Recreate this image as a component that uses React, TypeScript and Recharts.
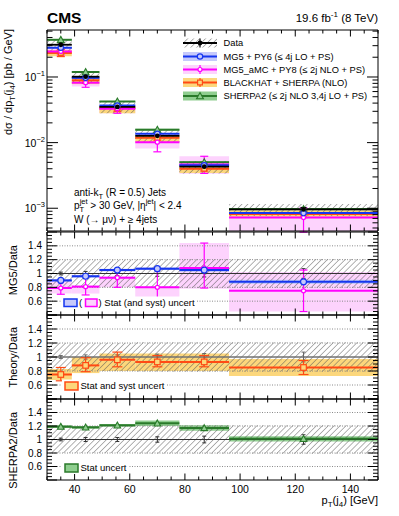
import React from 'react';
import { ComposedChart, XAxis, YAxis, Scatter, ErrorBar, ReferenceArea, ReferenceLine } from 'recharts';

const FONT = '"Liberation Sans", Arial, Helvetica, sans-serif';

// pT(j4) binning [GeV]
const binLow = [30, 39, 49, 62, 78, 96];
const binHigh = [39, 49, 62, 78, 96, 150];
const binCenter = [35, 44, 55.5, 70, 87, 123];

// measured cross section [pb/GeV] and relative uncertainties
const dataXsec = [0.31, 0.101, 0.035, 0.0127, 0.0043, 0.00096];
const dataRatio = [1, 1, 1, 1, 1, 1];
const dataStatLow = [0.98, 0.97, 0.97, 0.96, 0.95, 0.93];
const dataStatHigh = [1.02, 1.03, 1.03, 1.04, 1.05, 1.07];
const dataBandLow = [0.8, 0.8, 0.8, 0.79, 0.79, 0.79];
const dataBandHigh = [1.2, 1.2, 1.2, 1.21, 1.21, 1.21];

// theory / data
const mg5Ratio = [0.9, 0.96, 1.05, 1.07, 1.05, 0.88];
const mg5Low = [0.88, 0.94, 1.03, 1.05, 1.02, 0.85];
const mg5High = [0.92, 0.98, 1.07, 1.09, 1.08, 0.91];

const amcRatio = [0.79, 0.81, 0.94, 0.8, 1.08, 0.75];
const amcLow = [0.71, 0.71, 0.8, 0.64, 0.78, 0.45];
const amcHigh = [0.9, 0.83, 0.96, 0.81, 1.44, 1.02];
const amcErrLow = [0.7, 0.69, 0.8, 0.57, 0.79, 0.45];
const amcErrHigh = [0.9, 0.97, 1.05, 1.07, 1.44, 1.05];

const bhRatio = [0.75, 0.88, 0.96, 0.93, 0.93, 0.85];
const bhLow = [0.67, 0.77, 0.8, 0.8, 0.8, 0.73];
const bhHigh = [0.83, 1.0, 1.05, 1.05, 1.05, 0.97];
const bhErrLow = [0.66, 0.79, 0.86, 0.86, 0.86, 0.75];
const bhErrHigh = [0.85, 0.99, 1.07, 1.02, 1.02, 0.95];

const shRatio = [1.19, 1.18, 1.21, 1.24, 1.17, 1.01];
const shLow = [1.17, 1.16, 1.19, 1.2, 1.13, 0.97];
const shHigh = [1.21, 1.2, 1.23, 1.28, 1.21, 1.05];

const legendLabels = [
  'Data',
  'MG5 + PY6 (≤ 4j LO + PS)',
  'MG5_aMC + PY8 (≤ 2j NLO + PS)',
  'BLACKHAT + SHERPA (NLO)',
  'SHERPA2 (≤ 2j NLO 3,4j LO + PS)',
];

const xTicks = [30, 35, 40, 45, 50, 55, 60, 65, 70, 75, 80, 85, 90, 95, 100, 105, 110, 115, 120, 125, 130, 135, 140, 145, 150];
const xLabels = [40, 60, 80, 100, 120, 140];
const ratioLabels = [0.6, 0.8, 1, 1.2, 1.4];
const gridLines = [0.6, 0.8, 1.2, 1.4];

const logDomain: [number, number] = [4.5e-4, 0.52];
const ratioDomain: [number, number] = [0.4, 1.6];
const ratioTicks = Array.from({ length: 25 }, (_, i) => +(0.4 + i * 0.05).toFixed(2));
const logTicks: number[] = [];
for (let e = -4; e <= -1; e++) {
  for (let m = 1; m <= 9; m++) {
    const v = +(m * Math.pow(10, e)).toPrecision(3);
    if (v >= logDomain[0] && v <= logDomain[1]) logTicks.push(v);
  }
}

const C = {
  mg5: '#1535f0', mg5Band: '#c6c9fb',
  amc: '#ff00ff', amcBand: '#fdd3fd',
  bh: '#ff4a14', bhBand: '#fcd77c',
  sh: '#2a7a2a', shBand: '#8fce8f',
};

const xTick = (dir: number, showLabel: boolean) => (p: any) => {
  const v = p.payload.value;
  const major = v % 20 === 0;
  const len = major ? 6.5 : 3.5;
  return (
    <g>
      <line x1={p.x} x2={p.x} y1={p.y} y2={p.y + dir * len} stroke="#000" strokeWidth={1} />
      {showLabel && xLabels.includes(v) ? (
        <text x={p.x} y={p.y + 12.5} textAnchor="middle" fontSize={10.5} fontFamily={FONT} fill="#000">{v}</text>
      ) : null}
    </g>
  );
};

const logTick = (dir: number, showLabel: boolean) => (p: any) => {
  const v = p.payload.value;
  const lg = Math.log10(v);
  const major = Math.abs(lg - Math.round(lg)) < 1e-6;
  const len = major ? 11 : 5.5;
  return (
    <g>
      <line x1={p.x} x2={p.x + dir * len} y1={p.y} y2={p.y} stroke="#000" strokeWidth={1} />
      {showLabel && major ? (
        <text x={p.x - 2} y={p.y + 4} textAnchor="end" fontSize={10.5} fontFamily={FONT} fill="#000">
          10<tspan dy={-5} fontSize={7.5}>{'−' + Math.abs(Math.round(lg))}</tspan>
        </text>
      ) : null}
    </g>
  );
};

const ratioTick = (dir: number, showLabel: boolean) => (p: any) => {
  const v = p.payload.value;
  const k = Math.round(v * 100);
  const major = k % 20 === 0;
  const len = major ? 10 : 5;
  return (
    <g>
      <line x1={p.x} x2={p.x + dir * len} y1={p.y} y2={p.y} stroke="#000" strokeWidth={1} />
      {showLabel && ratioLabels.includes(v) ? (
        <text x={p.x - 5} y={p.y + 3.6} textAnchor="end" fontSize={10} fontFamily={FONT} fill="#000">
          {k === 100 ? '1' : v.toFixed(1)}
        </text>
      ) : null}
    </g>
  );
};

// axes are 1px thick so that they render; margins account for it
function panelAxes(kind: 'log' | 'ratio', showX: boolean) {
  const yProps: any = kind === 'log'
    ? { scale: 'log', domain: logDomain, ticks: logTicks }
    : { scale: 'linear', domain: ratioDomain, ticks: ratioTicks };
  const yt = kind === 'log' ? logTick : ratioTick;
  const common: any = { type: 'number', allowDataOverflow: true, interval: 0, tickLine: false, tickSize: 0, tickMargin: 0, axisLine: { stroke: '#000', strokeWidth: 1 } };
  return [
    <XAxis key="xb" xAxisId={0} dataKey="x" domain={[30, 150]} ticks={xTicks} tick={xTick(-1, showX)} height={1} {...common} />,
    <XAxis key="xt" xAxisId="top" orientation="top" dataKey="x" domain={[30, 150]} ticks={xTicks} tick={xTick(1, false)} height={1} {...common} />,
    <YAxis key="yl" yAxisId={0} dataKey="y" {...yProps} tick={yt(1, true)} width={1} {...common} />,
    <YAxis key="yr" yAxisId="r" orientation="right" dataKey="y" {...yProps} tick={yt(-1, false)} width={1} {...common} />,
  ];
}

function bandAreas(key: string, lo: number[], hi: number[], fill: string, scale?: number[]) {
  return binLow.map((x1, i) => {
    const s = scale ? scale[i] : 1;
    return (
      <ReferenceArea key={key + i} x1={x1} x2={binHigh[i]} y1={lo[i] * s} y2={hi[i] * s}
        fill={fill} fillOpacity={1} stroke="none" ifOverflow="hidden" />
    );
  });
}

type Pt = { x: number; y: number; ex: number[]; ey: number[] };
function makePoints(center: number[], lo: number[], hi: number[], scale?: number[]): Pt[] {
  return binCenter.map((x, i) => {
    const s = scale ? scale[i] : 1;
    const y = center[i] * s;
    return { x, y, ex: [x - binLow[i], binHigh[i] - x], ey: [y - lo[i] * s, hi[i] * s - y] };
  });
}

const dot = (color: string, r: number) => (p: any) => <circle cx={p.cx} cy={p.cy} r={r} fill={color} />;
const ring = (color: string, fill: string, r: number) => (p: any) =>
  <circle cx={p.cx} cy={p.cy} r={r} fill={fill} stroke={color} strokeWidth={1.2} />;
const square = (color: string, fill: string, s: number) => (p: any) =>
  <rect x={p.cx - s} y={p.cy - s} width={2 * s} height={2 * s} fill={fill} stroke={color} strokeWidth={1.2} />;
const triangle = (color: string, fill: string, s: number) => (p: any) =>
  <polygon points={`${p.cx},${p.cy - s} ${p.cx + s},${p.cy + s * 0.8} ${p.cx - s},${p.cy + s * 0.8}`} fill={fill} stroke={color} strokeWidth={1.1} />;

function series(key: string, pts: Pt[], color: string, shape: any, lineW: number, cap: number, errW = 1.2) {
  return (
    <Scatter key={key} data={pts} dataKey="y" isAnimationActive={false} shape={shape} legendType="none">
      <ErrorBar dataKey="ex" direction="x" width={0} stroke={color} strokeWidth={lineW} isAnimationActive={false} />
      <ErrorBar dataKey="ey" direction="y" width={cap} stroke={color} strokeWidth={errW} isAnimationActive={false} />
    </Scatter>
  );
}

function ratioGrid() {
  return [
    ...gridLines.map((v) => (
      <ReferenceLine key={'g' + v} y={v} stroke="#8a8a8a" strokeDasharray="1 1.5" ifOverflow="hidden" />
    )),
    <ReferenceLine key="g1" y={1} stroke="#888" strokeWidth={1} ifOverflow="hidden" />,
  ];
}

const dataRatioPts = makePoints(dataRatio, dataStatLow, dataStatHigh);
const M = { left: 46, right: 20 };

const TopPanel = () => (
  <ComposedChart width={399} height={240} margin={{ top: 29, right: M.right, bottom: 8, left: M.left }}>
    {panelAxes('log', false)}
    {bandAreas('ab', amcLow, amcHigh, C.amcBand, dataXsec)}
    {bandAreas('bb', bhLow, bhHigh, C.bhBand, dataXsec)}
    {bandAreas('mb', mg5Low, mg5High, C.mg5Band, dataXsec)}
    {bandAreas('sb', shLow, shHigh, C.shBand, dataXsec)}
    {bandAreas('hb', dataBandLow, dataBandHigh, 'url(#hatch)', dataXsec)}
    {series('sh', makePoints(shRatio, shLow, shHigh, dataXsec), C.sh, triangle(C.sh, C.shBand, 3.4), 2, 0)}
    {series('bh', makePoints(bhRatio, bhErrLow, bhErrHigh, dataXsec), C.bh, square(C.bh, C.bhBand, 2.4), 2, 4)}
    {series('am', makePoints(amcRatio, amcErrLow, amcErrHigh, dataXsec), C.amc, ring(C.amc, '#fff', 2), 2, 4)}
    {series('mg', makePoints(mg5Ratio, mg5Low, mg5High, dataXsec), C.mg5, ring(C.mg5, C.mg5Band, 2.7), 2, 0)}
    {series('da', makePoints(dataRatio, dataStatLow, dataStatHigh, dataXsec), '#000', dot('#000', 2.4), 1.8, 3)}
  </ComposedChart>
);

const Mg5Panel = () => (
  <ComposedChart width={399} height={87} margin={{ top: 1, right: M.right, bottom: 1, left: M.left }}>
    {panelAxes('ratio', false)}
    {ratioGrid()}
    {bandAreas('ab', amcLow, amcHigh, C.amcBand)}
    {bandAreas('mb', mg5Low, mg5High, C.mg5Band)}
    {bandAreas('hb', dataBandLow, dataBandHigh, 'url(#hatch)')}
    {series('da', dataRatioPts, '#333', dot('#333', 0.8), 1, 2, 1)}
    {series('am', makePoints(amcRatio, amcErrLow, amcErrHigh), C.amc, ring(C.amc, '#fff', 2), 2, 4)}
    {series('mg', makePoints(mg5Ratio, mg5Low, mg5High), C.mg5, ring(C.mg5, C.mg5Band, 3), 2, 0)}
  </ComposedChart>
);

const TheoryPanel = () => (
  <ComposedChart width={399} height={88} margin={{ top: 1, right: M.right, bottom: 1, left: M.left }}>
    {panelAxes('ratio', false)}
    {ratioGrid()}
    {bandAreas('bb', bhLow, bhHigh, C.bhBand)}
    {bandAreas('hb', dataBandLow, dataBandHigh, 'url(#hatch)')}
    {series('da', dataRatioPts, '#666', dot('#666', 0.8), 1, 2, 1)}
    {series('bh', makePoints(bhRatio, bhErrLow, bhErrHigh), C.bh, square(C.bh, C.bhBand, 2.8), 2, 5)}
  </ComposedChart>
);

const SherpaPanel = () => (
  <ComposedChart width={399} height={120} margin={{ top: 1, right: M.right, bottom: 36, left: M.left }}>
    {panelAxes('ratio', true)}
    {ratioGrid()}
    {bandAreas('sb', shLow, shHigh, C.shBand)}
    {bandAreas('hb', dataBandLow, dataBandHigh, 'url(#hatch)')}
    {series('da', dataRatioPts, '#333', dot('#333', 0.8), 1, 2, 1)}
    {series('sh', makePoints(shRatio, shLow, shHigh), C.sh, triangle(C.sh, C.shBand, 3.3), 2, 0)}
  </ComposedChart>
);

const legendY = [43, 56.5, 69.5, 82.5, 96];
const legendFill = ['url(#hatch)', C.mg5Band, C.amcBand, C.bhBand, C.shBand];
const legendColor = ['#000', C.mg5, C.amc, C.bh, C.sh];

const LegendSymbol = ({ i, y }: { i: number; y: number }) => {
  const x0 = 183, x1 = 217, cx = 200;
  const c = legendColor[i];
  let marker: React.ReactNode = null;
  if (i === 0) marker = <circle cx={cx} cy={y} r={2.4} fill="#000" />;
  if (i === 1) marker = <circle cx={cx} cy={y} r={2.7} fill={C.mg5Band} stroke={c} strokeWidth={1.2} />;
  if (i === 2) marker = <circle cx={cx} cy={y} r={2} fill="#fff" stroke={c} strokeWidth={1.2} />;
  if (i === 3) marker = <rect x={cx - 2.4} y={y - 2.4} width={4.8} height={4.8} fill={C.bhBand} stroke={c} strokeWidth={1.2} />;
  if (i === 4) marker = <polygon points={`${cx},${y - 3.4} ${cx + 3.4},${y + 2.7} ${cx - 3.4},${y + 2.7}`} fill={C.shBand} stroke={c} strokeWidth={1.1} />;
  return (
    <g>
      <rect x={x0} y={y - 4.5} width={x1 - x0} height={9} fill={legendFill[i]} />
      <line x1={x0} x2={x1} y1={y} y2={y} stroke={c} strokeWidth={2} />
      {i !== 1 && i !== 4 ? <line x1={cx} x2={cx} y1={y - 4.5} y2={y + 4.5} stroke={c} strokeWidth={1.2} /> : null}
      {marker}
    </g>
  );
};

const Overlay = () => (
  <svg width={399} height={516} style={{ position: 'absolute', left: 0, top: 0, pointerEvents: 'none' }}
    fontFamily={FONT} fill="#000">
    <text x={47} y={22.5} fontSize={15.5} fontWeight="bold">CMS</text>
    <text x={378} y={21.5} textAnchor="end" fontSize={11.5}>
      19.6 fb<tspan dy={-4.5} fontSize={8}>-1</tspan><tspan dy={4.5}> (8 TeV)</tspan>
    </text>

    <text transform="rotate(-90)" x={-29} y={12} textAnchor="end" fontSize={11}>
      dσ / dp<tspan dy={3} fontSize={8}>T</tspan><tspan dy={-3}>(j</tspan><tspan dy={3} fontSize={8}>4</tspan><tspan dy={-3}>)  [pb / GeV]</tspan>
    </text>
    <text transform="rotate(-90)" x={-245} y={17} textAnchor="end" fontSize={11}>MG5/Data</text>
    <text transform="rotate(-90)" x={-327} y={17} textAnchor="end" fontSize={11}>Theory/Data</text>
    <text transform="rotate(-90)" x={-412} y={17} textAnchor="end" fontSize={11}>SHERPA2/Data</text>

    {legendLabels.map((t, i) => (
      <g key={t}>
        <LegendSymbol i={i} y={legendY[i]} />
        <text x={223.5} y={legendY[i] + 3.3} fontSize={9.3}>{t}</text>
      </g>
    ))}

    <text x={74} y={195.5} fontSize={10}>
      anti-k<tspan dy={3} fontSize={7.5}>T</tspan><tspan dy={-3}> (R = 0.5) Jets</tspan>
    </text>
    <text x={74} y={209} fontSize={10}>
      p<tspan dy={3} fontSize={7.5}>T</tspan><tspan dx={-4.5} dy={-8} fontSize={7.5}>jet</tspan>
      <tspan dy={5}> &gt; 30 GeV, |η</tspan><tspan dy={-5} fontSize={7.5}>jet</tspan><tspan dy={5}>| &lt; 2.4</tspan>
    </text>
    <text x={74} y={222.5} fontSize={10}>W (→ μν) + ≥ 4jets</text>

    <rect x={61} y={296.5} width={135} height={12.5} fill="#fff" />
    <rect x={64} y={299} width={13} height={7.5} fill={C.mg5Band} stroke={C.mg5} strokeWidth={1.5} />
    <text x={79} y={306} fontSize={9.5}>(</text>
    <rect x={85.5} y={299} width={11.5} height={7.5} fill={C.amcBand} stroke={C.amc} strokeWidth={1.5} />
    <text x={98.5} y={306} fontSize={9.5}>) Stat (and syst) uncert</text>

    <rect x={62} y={379.5} width={104} height={12.5} fill="#fff" />
    <rect x={65} y={382} width={13} height={8} fill={C.bhBand} stroke={C.bh} strokeWidth={1.5} />
    <text x={80.5} y={389.2} fontSize={9.5}>Stat and syst uncert</text>

    <rect x={62} y={461.5} width={66} height={12.5} fill="#fff" />
    <rect x={65} y={464} width={13} height={8} fill={C.shBand} stroke={C.sh} strokeWidth={1.5} />
    <text x={80.5} y={471.2} fontSize={9.5}>Stat uncert</text>

    <text x={378} y={503.5} textAnchor="end" fontSize={11}>
      p<tspan dy={3} fontSize={8}>T</tspan><tspan dy={-3}>(j</tspan><tspan dy={3} fontSize={8}>4</tspan><tspan dy={-3}>) [GeV]</tspan>
    </text>
  </svg>
);

export default function App() {
  return (
    <div style={{ position: 'absolute', left: 0, top: 0, width: 399, height: 516, background: '#fff', fontFamily: FONT }}>
      <svg width={0} height={0} style={{ position: 'absolute' }}>
        <defs>
          <pattern id="hatch" width={4.2} height={4.2} patternUnits="userSpaceOnUse" patternTransform="rotate(45)">
            <line x1={0} y1={0} x2={0} y2={4.2} stroke="#555" strokeWidth={0.9} />
          </pattern>
        </defs>
      </svg>
      <div style={{ position: 'absolute', left: 0, top: 0 }}><TopPanel /></div>
      <div style={{ position: 'absolute', left: 0, top: 230 }}><Mg5Panel /></div>
      <div style={{ position: 'absolute', left: 0, top: 313 }}><TheoryPanel /></div>
      <div style={{ position: 'absolute', left: 0, top: 397 }}><SherpaPanel /></div>
      <Overlay />
    </div>
  );
}
